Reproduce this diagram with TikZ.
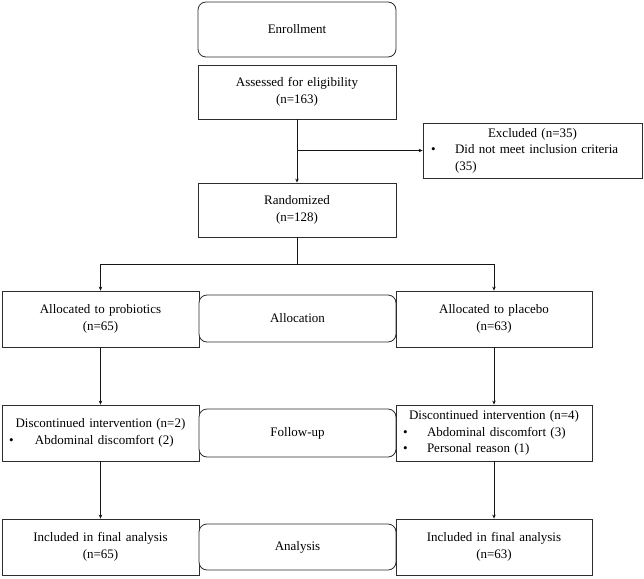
\documentclass[tikz,border=0pt]{standalone}
\usepackage{fontspec}
\setmainfont{Liberation Serif}
\usepackage{tikz}
\usetikzlibrary{arrows.meta, positioning, calc}
\definecolor{boxline}{RGB}{45,45,45}
\definecolor{flowline}{RGB}{20,20,20}
\tikzset{
  box/.style={rectangle, draw=boxline, fill=white, align=center, inner xsep=4pt,
    inner ysep=2pt, font=\fontsize{13}{16.5}\selectfont, line width=0.8pt},
  stage/.style={box, rounded corners=8pt},
  arrow/.style={-{Stealth[length=4pt, width=3.5pt]}, line width=0.7pt, color=flowline},
  line/.style={line width=0.7pt, color=flowline}
}

\begin{document}
\begin{tikzpicture}[x=1pt, y=-1pt]
\useasboundingbox (0,0) rectangle (644,578);

% middle column
\node[stage, text width=190pt, minimum height=55pt] (enroll) at (297,29.5) {Enrollment};
\node[box, text width=190pt, minimum height=54pt] (assess) at (297,92)
  {Assessed for eligibility\\(n=163)};
\node[box, text width=190pt, minimum height=54pt] (rand) at (297,210)
  {Randomized\\(n=128)};

% excluded
\node[box, text width=209pt, inner xsep=5pt, align=left, minimum height=55pt] (excl) at (532.5,150.5)
  {{\centering Excluded (n=35)\par}\raggedright
   \hspace*{3pt}\makebox[24pt][l]{\textbullet}Did not meet inclusion criteria\par
   \hspace*{27pt}(35)};

% allocation
\node[box, text width=189pt, minimum height=56pt] (probio) at (100.5,319)
  {Allocated to probiotics\\(n=65)};
\node[stage, text width=189pt, minimum height=47pt] (allocstage) at (297.5,318.5) {Allocation};
\node[box, text width=188pt, minimum height=56pt] (placebo) at (494,319)
  {Allocated to placebo\\(n=63)};

% follow-up
\node[box, text width=189pt, align=left, minimum height=56pt] (probiofu) at (100.5,433)
  {{\centering Discontinued intervention (n=2)\par}\raggedright
   \hspace*{3pt}\makebox[26pt][l]{\textbullet}Abdominal discomfort (2)};
\node[stage, text width=189pt, minimum height=48pt] (fustage) at (297.5,433) {Follow-up};
\node[box, text width=188pt, align=left, minimum height=56pt] (placebofu) at (494,433)
  {{\centering Discontinued intervention (n=4)\par}\raggedright
   \hspace*{3pt}\makebox[24pt][l]{\textbullet}Abdominal discomfort (3)\par
   \hspace*{3pt}\makebox[24pt][l]{\textbullet}Personal reason (1)};

% analysis
\node[box, text width=189pt, minimum height=56pt] (probioan) at (100.5,547)
  {Included in final analysis\\(n=65)};
\node[stage, text width=189pt, minimum height=46pt] (anstage) at (297.5,547) {Analysis};
\node[box, text width=188pt, minimum height=56pt] (placeboan) at (494,547)
  {Included in final analysis\\(n=63)};

% connectors
\draw[arrow] (assess) -- (rand);
\draw[arrow] (assess.south |- excl.west) -- (excl.west);
\coordinate (split) at (297,264);
\draw[line] (rand) -- (split);
\draw[arrow] (split) -| (probio.north);
\draw[arrow] (split) -| (placebo.north);
\draw[arrow] (probio) -- (probiofu);
\draw[arrow] (placebo) -- (placebofu);
\draw[arrow] (probiofu) -- (probioan);
\draw[arrow] (placebofu) -- (placeboan);
\end{tikzpicture}
\end{document}
